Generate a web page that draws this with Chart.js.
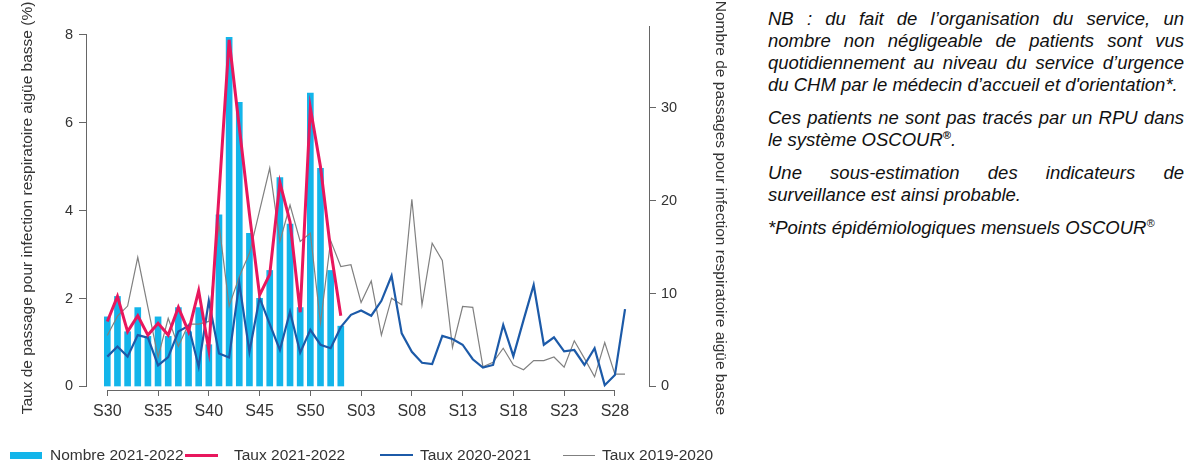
<!DOCTYPE html>
<html lang="fr">
<head>
<meta charset="utf-8">
<script src="https://cdn.jsdelivr.net/npm/chart.js@4.4.1/dist/chart.umd.min.js"></script>
<style>
  html, body { margin: 0; padding: 0; background: #fff; }
  body { width: 1203px; height: 463px; position: relative; overflow: hidden; }
  #wrap { position: absolute; left: 0; top: 0; width: 745px; height: 463px; }
  .note {
    position: absolute; left: 768px; top: 8px; width: 416px;
    font-family: 'Liberation Sans', Arial, sans-serif; font-style: italic;
    font-size: 18.5px; line-height: 22px; color: #111; text-align: justify;
  }
  .note p { margin: 0 0 11px 0; }
  .note sup { font-size: 11px; line-height: 0; vertical-align: 7px; }
  .legend { position: absolute; top: 444px; height: 22px; font-family: 'Liberation Sans', Arial, sans-serif; font-size: 15.5px; color: #333; }
  .legend span.sw { position: absolute; }
  .legend span.tx { position: absolute; top: 0; line-height: 22px; white-space: nowrap; }
</style>
</head>
<body>
<div id="wrap"><canvas id="chart" width="745" height="463"></canvas></div>

<div class="legend" style="left:0;width:740px">
  <span class="sw" style="left:10px;top:8px;width:32px;height:7px;background:#13b5ea"></span>
  <span class="tx" style="left:50px">Nombre 2021-2022</span>
  <span class="sw" style="left:185px;top:10px;width:33px;height:3px;background:#e8175d"></span>
  <span class="tx" style="left:234px">Taux 2021-2022</span>
  <span class="sw" style="left:380px;top:10px;width:33px;height:2px;background:#1c5aa8"></span>
  <span class="tx" style="left:420px">Taux 2020-2021</span>
  <span class="sw" style="left:563px;top:11px;width:32px;height:1px;background:#808080"></span>
  <span class="tx" style="left:602px">Taux 2019-2020</span>
</div>

<div class="note">
  <p>NB : du fait de l’organisation du service, un nombre non négligeable de patients sont vus quotidiennement au niveau du service d’urgence du CHM par le médecin d’accueil et d'orientation*.</p>
  <p>Ces patients ne sont pas tracés par un RPU dans le système OSCOUR<sup><b>®</b></sup>.</p>
  <p>Une sous-estimation des indicateurs de surveillance est ainsi probable.</p>
  <p>*Points épidémiologiques mensuels OSCOUR<sup>®</sup></p>
</div>

<script>
// semaines S30 -> S29
const weeks = ['S30','S31','S32','S33','S34','S35','S36','S37','S38','S39','S40','S41','S42','S43','S44','S45',
  'S46','S47','S48','S49','S50','S51','S52','S01','S02','S03','S04','S05','S06','S07','S08','S09','S10',
  'S11','S12','S13','S14','S15','S16','S17','S18','S19','S20','S21','S22','S23','S24','S25','S26','S27','S28','S29'];

// nombre de passages 2021-2022 (axe droit)
const nombre2122 = [7.5, 9.7, 5.9, 8.5, 5.4, 7.5, 5.4, 8.5, 5.9, 8.5, 4.5, 18.5, 37.6, 30.6, 16.5, 9.5,
  12.5, 22.5, 17.5, 8.5, 31.6, 23.5, 12.5, 6.5];

// taux (%) axe gauche
const taux2122 = [1.48, 2.05, 1.25, 1.61, 1.17, 1.44, 1.17, 1.80, 1.25, 2.18, 0.83, 4.36, 7.89, 5.9, 3.93, 2.08,
  2.55, 4.64, 3.75, 1.69, 6.34, 5.0, 3.11, 1.61];
const taux2021 = [0.68, 0.91, 0.68, 1.17, 1.11, 0.48, 0.67, 1.25, 1.38, 0.45, 1.95, 0.75, 0.66, 2.35, 0.79, 2.02,
  1.42, 0.83, 1.70, 0.77, 1.29, 0.95, 0.87, 1.35, 1.63, 1.73, 1.61, 1.95, 2.52, 1.21, 0.79, 0.54, 0.51,
  1.15, 1.08, 0.95, 0.62, 0.43, 0.49, 1.40, 0.69, 1.51, 2.31, 0.95, 1.12, 0.80, 0.83, 0.49, 0.87, 0.03, 0.26, 1.76];
const taux1920 = [1.16, 1.6, 1.83, 2.94, 1.8, 0.67, 1.55, 0.91, 1.42, 1.42, 1.48, 3.70, 1.83, 2.50, 3.03, 4.0,
  4.97, 3.30, 4.13, 3.30, 3.49, 1.44, 3.32, 2.73, 2.77, 1.91, 2.40, 1.17, 2.01, 1.86, 4.26, 1.86, 3.26,
  2.87, 0.89, 1.82, 1.80, 0.45, 0.55, 0.87, 0.49, 0.38, 0.59, 0.59, 0.67, 0.44, 1.04, 0.64, 0.22, 1.0, 0.28, 0.28];

const xTicks = [0, 5, 10, 15, 20, 25, 30, 35, 40, 45, 50];
const leftTicks = [0, 2, 4, 6, 8];
const rightTicks = [0, 10, 20, 30];

const pts = arr => arr.map((v, i) => ({x: i, y: v}));

const sans = "'Liberation Sans', Arial, sans-serif";

// pas de marges automatiques, la zone de tracé est fixée
const noPad = s => { s.paddingLeft = 0; s.paddingRight = 0; s.paddingTop = 0; s.paddingBottom = 0; };

// lignes d'axes (de la 1re a la derniere graduation, comme R)
const axisLines = {
  id: 'axisLines',
  afterDraw(chart) {
    const {ctx, chartArea} = chart;
    const x = chart.scales.x, yL = chart.scales.yL, yR = chart.scales.yR;
    ctx.save();
    ctx.strokeStyle = '#666';
    ctx.lineWidth = 1;
    ctx.beginPath();
    const yb = Math.round(chartArea.bottom) + 0.5;
    ctx.moveTo(x.getPixelForValue(xTicks[0]), yb);
    ctx.lineTo(x.getPixelForValue(xTicks[xTicks.length - 1]), yb);
    const xl = Math.round(chartArea.left) - 0.5;
    ctx.moveTo(xl, yL.getPixelForValue(8));
    ctx.lineTo(xl, yL.getPixelForValue(0));
    const xr = Math.round(chartArea.right) + 0.5;
    ctx.moveTo(xr, chartArea.top);
    ctx.lineTo(xr, yR.getPixelForValue(0));
    ctx.stroke();
    ctx.restore();
  }
};

new Chart(document.getElementById('chart'), {
  type: 'bar',
  data: {
    datasets: [
      {
        type: 'line',
        label: 'Taux 2021-2022',
        data: pts(taux2122),
        yAxisID: 'yL',
        borderColor: '#e8175d',
        borderWidth: 3,
        pointRadius: 0,
        tension: 0,
        order: 0
      },
      {
        type: 'line',
        label: 'Taux 2020-2021',
        data: pts(taux2021),
        yAxisID: 'yL',
        borderColor: '#1c5aa8',
        borderWidth: 2.2,
        pointRadius: 0,
        tension: 0,
        order: 1
      },
      {
        type: 'line',
        label: 'Taux 2019-2020',
        data: pts(taux1920),
        yAxisID: 'yL',
        borderColor: '#808080',
        borderWidth: 1.2,
        pointRadius: 0,
        tension: 0,
        order: 2
      },
      {
        label: 'Nombre 2021-2022',
        data: pts(nombre2122),
        yAxisID: 'yR',
        backgroundColor: '#13b5ea',
        barThickness: 6,
        order: 3
      }
    ]
  },
  options: {
    responsive: false,
    animation: false,
    layout: { padding: { top: 26, left: 0, right: 0, bottom: 0 } },
    plugins: { legend: { display: false }, tooltip: { enabled: false } },
    scales: {
      x: {
        type: 'linear',
        offset: false,
        min: -2,
        max: 53.36,
        afterBuildTicks: s => { s.ticks = xTicks.map(v => ({value: v})); },
        afterFit: s => { s.height = 73; noPad(s); },
        border: { display: false },
        grid: { offset: false, drawOnChartArea: false, drawTicks: true, tickLength: 6, color: '#666' },
        ticks: {
          autoSkip: false, maxRotation: 0, padding: 6,
          color: '#333', font: { family: sans, size: 16 },
          callback: v => weeks[v]
        }
      },
      yL: {
        type: 'linear',
        position: 'left',
        min: -0.08,
        max: 8.204,
        afterBuildTicks: s => { s.ticks = leftTicks.map(v => ({value: v})); },
        afterFit: s => { s.width = 87; noPad(s); },
        border: { display: false },
        grid: { drawOnChartArea: false, drawTicks: true, tickLength: 8, color: '#666' },
        ticks: { padding: 6, color: '#333', font: { family: sans, size: 14.5 } },
        title: {
          display: true,
          text: 'Taux de passage pour infection respiratoire aigüe basse (%)',
          color: '#333', font: { family: sans, size: 15.5 }, padding: { top: 18, bottom: 0 }
        }
      },
      yR: {
        type: 'linear',
        position: 'right',
        min: -0.377,
        max: 38.83,
        afterBuildTicks: s => { s.ticks = rightTicks.map(v => ({value: v})); },
        afterFit: s => { s.width = 96; noPad(s); },
        border: { display: false },
        grid: { drawOnChartArea: false, drawTicks: true, tickLength: 7, color: '#666' },
        ticks: { padding: 5, color: '#333', font: { family: sans, size: 14.5 } },
        title: {
          display: true,
          text: 'Nombre de passages pour infection respiratoire aigüe basse',
          color: '#333', font: { family: sans, size: 15.5 }, padding: { top: 15, bottom: 0 }
        }
      }
    }
  },
  plugins: [axisLines]
});
</script>
</body>
</html>
